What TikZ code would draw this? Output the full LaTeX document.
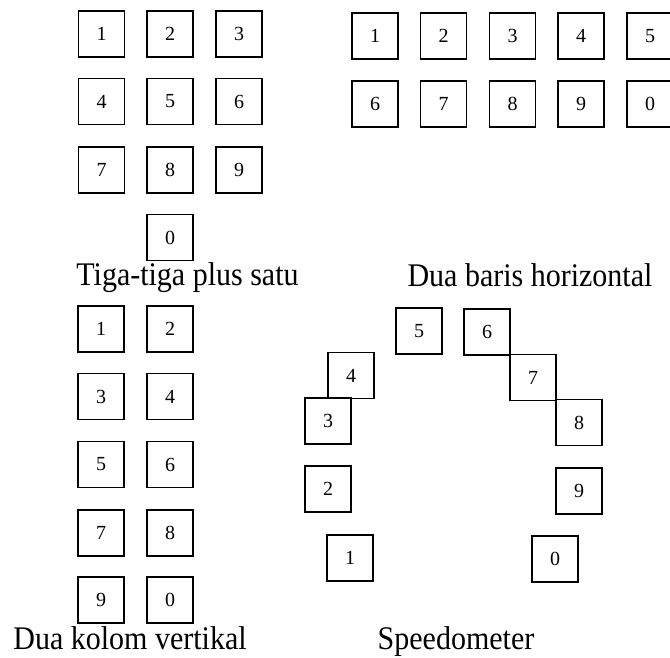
\documentclass[tikz,border=0pt]{standalone}
\usepackage{fontspec}
\setmainfont{Liberation Serif}
\newcommand{\tallcap}[1]{\scalebox{1}[1.1]{#1}}
\begin{document}
\begin{tikzpicture}[x=1pt,y=-1pt,
  keybox/.style={draw=black, line width=1.5pt, minimum size=46pt, inner sep=0pt,
    font=\fontsize{20}{24}\selectfont},
  caption/.style={anchor=base, inner sep=0pt, font=\fontsize{30}{36}\selectfont}]
\clip (0,0) rectangle (670,658);
\fill[white] (0,0) rectangle (670,658);
% Tiga-tiga plus satu
\node[keybox] (a1) at (101.5,34) {1};
\node[keybox] (a2) at (170,34) {2};
\node[keybox] (a3) at (239,34) {3};
\node[keybox] (a4) at (101.5,101.5) {4};
\node[keybox] (a5) at (170,101.5) {5};
\node[keybox] (a6) at (239,101.5) {6};
\node[keybox] (a7) at (101.5,170) {7};
\node[keybox] (a8) at (170,170) {8};
\node[keybox] (a9) at (239,170) {9};
\node[keybox] (a0) at (170,237.5) {0};
\node[caption] (capA) at (187.5,285.5) {\tallcap{Tiga-tiga plus satu}};
% Dua baris horizontal
\node[keybox] (b1) at (375,36) {1};
\node[keybox] (b2) at (443.5,36) {2};
\node[keybox] (b3) at (512.5,36) {3};
\node[keybox] (b4) at (581,36) {4};
\node[keybox] (b5) at (650,36) {5};
\node[keybox] (b6) at (375,104) {6};
\node[keybox] (b7) at (443.5,104) {7};
\node[keybox] (b8) at (512.5,104) {8};
\node[keybox] (b9) at (581,104) {9};
\node[keybox] (b0) at (650,104) {0};
\node[caption] (capB) at (530,286) {\tallcap{Dua baris horizontal}};
% Dua kolom vertikal
\node[keybox] (c1) at (101,329) {1};
\node[keybox] (c2) at (170,329) {2};
\node[keybox] (c3) at (101,396.5) {3};
\node[keybox] (c4) at (170,396.5) {4};
\node[keybox] (c5) at (101,464.5) {5};
\node[keybox] (c6) at (170,464.5) {6};
\node[keybox] (c7) at (101,533) {7};
\node[keybox] (c8) at (170,533) {8};
\node[keybox] (c9) at (101,600) {9};
\node[keybox] (c0) at (170,600) {0};
\node[caption] (capC) at (130,649.5) {\tallcap{Dua kolom vertikal}};
% Speedometer
\node[keybox] (d1) at (350,558) {1};
\node[keybox] (d2) at (328,489) {2};
\node[keybox] (d3) at (328,421) {3};
\node[keybox] (d4) at (351,375.5) {4};
\node[keybox] (d5) at (419,331) {5};
\node[keybox] (d6) at (487,332) {6};
\node[keybox] (d7) at (533,377.5) {7};
\node[keybox] (d8) at (579,422.5) {8};
\node[keybox] (d9) at (579,491) {9};
\node[keybox] (d0) at (555,559) {0};
\node[caption] (capD) at (456,649.5) {\tallcap{Speedometer}};
\end{tikzpicture}
\end{document}
